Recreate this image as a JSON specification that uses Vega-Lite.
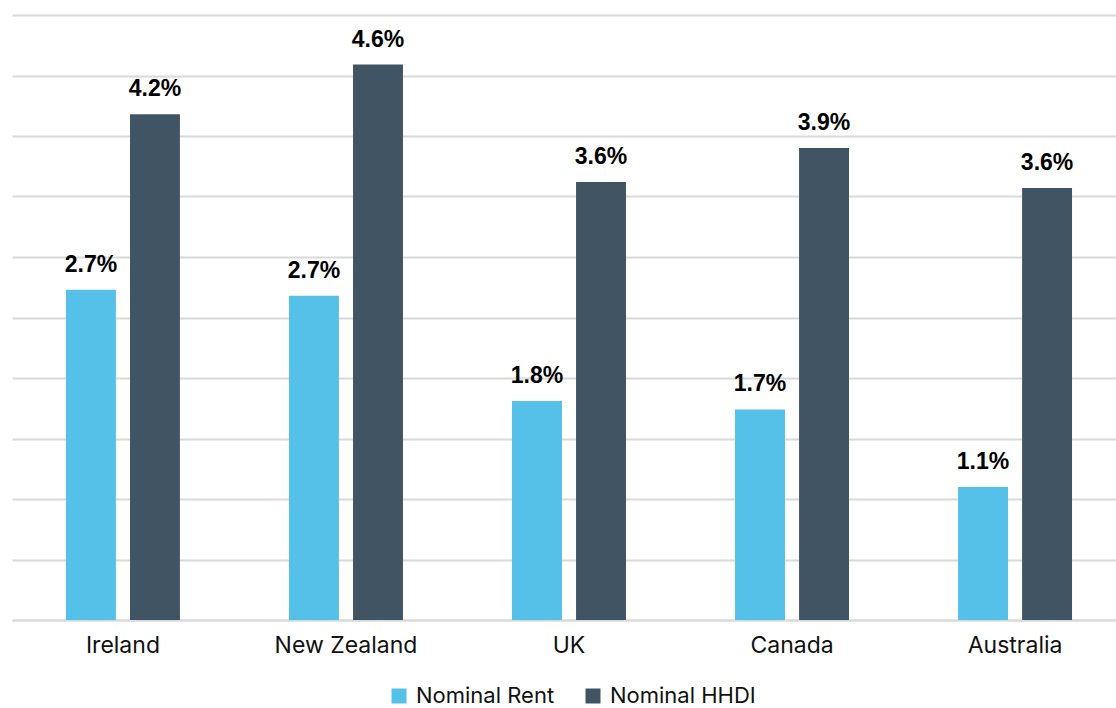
{
  "$schema": "https://vega.github.io/schema/vega-lite/v6.json",
  "width": 1104,
  "height": 605,
  "autosize": {"type": "none"},
  "padding": {"left": 12, "top": 15, "right": 0, "bottom": 88},
  "background": "white",
  "config": {"view": {"stroke": null}, "font": "Inter"},
  "data": {"values": [
    {"country": "Ireland", "series": "Nominal Rent", "value": 0.0273},
    {"country": "Ireland", "series": "Nominal HHDI", "value": 0.0418},
    {"country": "New Zealand", "series": "Nominal Rent", "value": 0.0268},
    {"country": "New Zealand", "series": "Nominal HHDI", "value": 0.0459},
    {"country": "UK", "series": "Nominal Rent", "value": 0.0181},
    {"country": "UK", "series": "Nominal HHDI", "value": 0.0362},
    {"country": "Canada", "series": "Nominal Rent", "value": 0.0174},
    {"country": "Canada", "series": "Nominal HHDI", "value": 0.0390},
    {"country": "Australia", "series": "Nominal Rent", "value": 0.0110},
    {"country": "Australia", "series": "Nominal HHDI", "value": 0.0357}
  ]},
  "encoding": {
    "x": {
      "field": "country", "type": "nominal", "sort": null, "title": null,
      "scale": {"range": [0, 1114], "paddingInner": 0.489, "paddingOuter": 0.242},
      "axis": {"labelAngle": 0, "labelFontSize": 23, "labelColor": "#111111", "labelFont": "Inter", "ticks": false, "domainColor": "#d9d9d9", "domainWidth": 2, "labelPadding": 14, "grid": false}
    },
    "xOffset": {"field": "series", "type": "nominal", "sort": ["Nominal Rent", "Nominal HHDI"], "scale": {"paddingInner": 0.22, "paddingOuter": 0}},
    "y": {
      "field": "value", "type": "quantitative", "title": null,
      "scale": {"domain": [0, 0.05], "nice": false},
      "axis": {"values": [0, 0.005, 0.01, 0.015, 0.02, 0.025, 0.03, 0.035, 0.04, 0.045, 0.05], "labels": false, "ticks": false, "domain": false, "gridColor": "#d9d9d9", "gridWidth": 2}
    }
  },
  "layer": [
    {
      "mark": {"type": "bar"},
      "encoding": {
        "color": {
          "field": "series", "type": "nominal", "sort": ["Nominal Rent", "Nominal HHDI"],
          "scale": {"domain": ["Nominal Rent", "Nominal HHDI"], "range": ["#56C1E8", "#415464"]},
          "legend": {"title": null, "orient": "none", "legendX": 376, "legendY": 670, "direction": "horizontal", "symbolType": "square", "symbolSize": 225, "symbolStrokeWidth": 0, "labelFontSize": 22, "labelFont": "Inter", "labelColor": "#111111", "columnPadding": 27, "labelOffset": 6}
        }
      }
    },
    {
      "mark": {"type": "text", "baseline": "alphabetic", "dy": -18, "fontSize": 23, "fontWeight": "bold", "font": "Liberation Sans", "color": "#000000"},
      "encoding": {
        "text": {"field": "value", "type": "quantitative", "format": ".1%"}
      }
    }
  ]
}
